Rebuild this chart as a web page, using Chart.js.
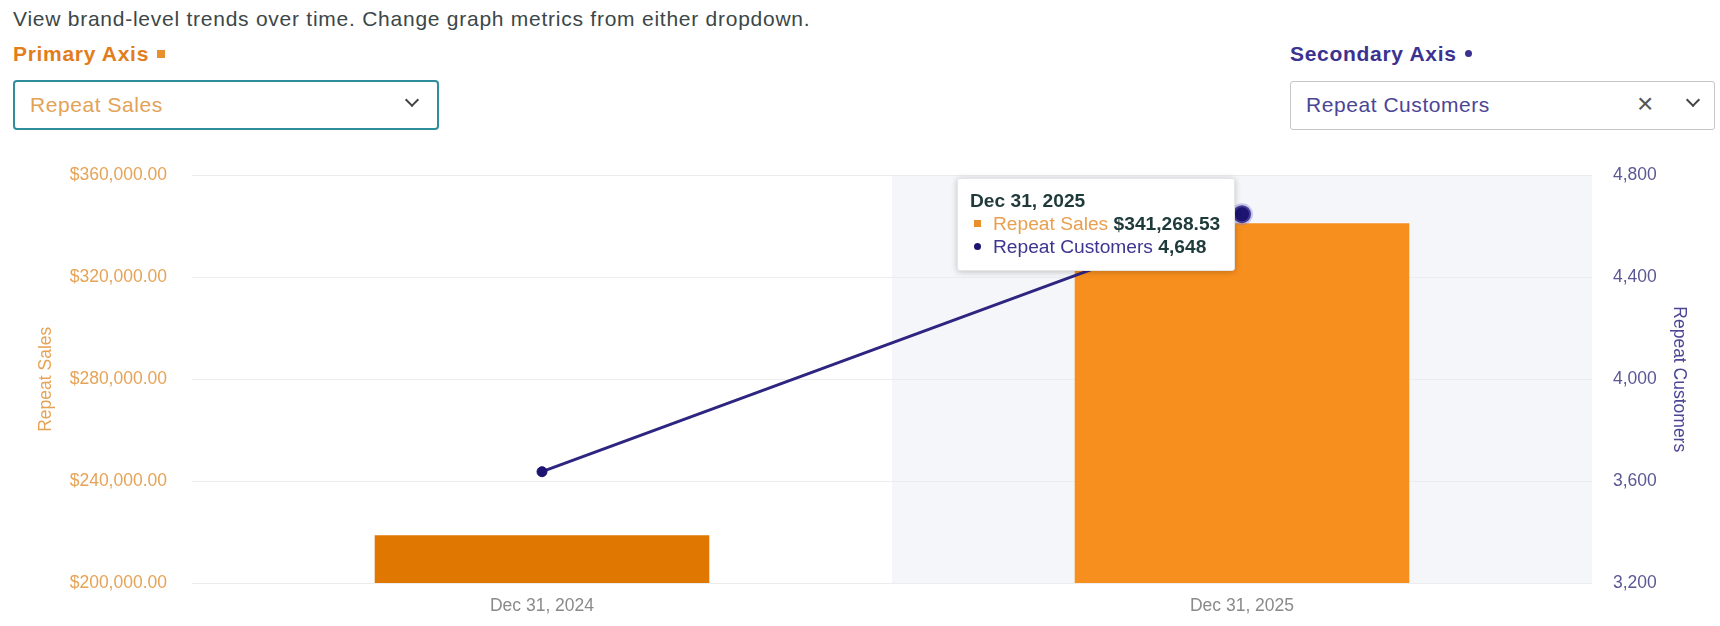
<!DOCTYPE html>
<html>
<head>
<meta charset="utf-8">
<script src="https://cdn.jsdelivr.net/npm/chart.js@4.4.1/dist/chart.umd.min.js"></script>
<style>
  html, body { margin: 0; padding: 0; background: #fff; width: 1720px; height: 626px; overflow: hidden; font-family: "Liberation Sans", Arial, sans-serif; }
  #intro { position: absolute; left: 13px; top: 7px; font-size: 21px; color: #3b4748; letter-spacing: 0.75px; white-space: nowrap; }
  .axlab { position: absolute; top: 42px; font-size: 21px; font-weight: bold; white-space: nowrap; letter-spacing: 0.7px; }
  #plab { left: 13px; color: #e27d1c; }
  #slab { left: 1290px; color: #3b3290; }
  .sq { display: inline-block; width: 8px; height: 8px; background: #e8902c; margin-left: 8px; vertical-align: 3px; }
  .dot { display: inline-block; width: 7px; height: 7px; border-radius: 50%; background: #3b3290; margin-left: 8px; vertical-align: 4px; }
  .dd { position: absolute; box-sizing: border-box; background: #fff; font-size: 21px; }
  #dd1 { left: 13px; top: 80px; width: 426px; height: 50px; border: 2px solid #2d8d9a; border-radius: 4px; color: #e3a257; }
  #dd2 { left: 1290px; top: 81px; width: 425px; height: 49px; border: 1px solid #c6c6c6; border-radius: 3px; color: #4c4596; }
  .dd .txt { position: absolute; left: 15px; top: 11px; letter-spacing: 0.55px; }
  .chev { position: absolute; top: 13px; width: 8px; height: 8px; border-right: 2.5px solid #444; border-bottom: 2.5px solid #444; transform: rotate(45deg); }
  #dd1 .chev { left: 392px; }
  #dd2 .chev { left: 397px; }
  .x { position: absolute; left: 346px; top: 6px; font-size: 28px; color: #555; }
  #wrap { position: absolute; left: 0; top: 140px; width: 1720px; height: 486px; }
  #tip { position: absolute; display: none; background: #fff; border: 1px solid #e6e6e6; border-radius: 3px; box-shadow: 0 1px 6px rgba(0,0,0,0.22); padding: 10px 14px 12px 12px; font-family: "Liberation Sans", Arial, sans-serif; font-size: 19.2px; line-height: 23px; white-space: nowrap; color: #1f3a3a; }
  #tip .t { font-weight: bold; }
  #tip .v { font-weight: bold; color: #1f3a3a; }
  #tip .m1 { display: inline-block; width: 7px; height: 7px; background: #e8902c; margin: 0 12px 0 4px; vertical-align: 3px; }
  #tip .m2 { display: inline-block; width: 7px; height: 7px; border-radius: 50%; background: #1c1470; margin: 0 12px 0 4px; vertical-align: 3px; }
</style>
</head>
<body>
<div id="intro">View brand-level trends over time. Change graph metrics from either dropdown.</div>
<div class="axlab" id="plab">Primary Axis<span class="sq"></span></div>
<div class="axlab" id="slab">Secondary Axis<span class="dot"></span></div>
<div class="dd" id="dd1"><span class="txt">Repeat Sales</span><span class="chev"></span></div>
<div class="dd" id="dd2"><span class="txt">Repeat Customers</span><span class="x">×</span><span class="chev"></span></div>
<div id="wrap"><canvas id="c" width="1720" height="486"></canvas></div>
<div id="tip"></div>
<script>
// ---- data ----
const categories = ["Dec 31, 2024", "Dec 31, 2025"];
const repeatSales = [218700, 341268.53];
const repeatCustomers = [3637, 4648];
const salesTicks = [200000, 240000, 280000, 320000, 360000];
const customerTicks = [3200, 3600, 4000, 4400, 4800];
const activeIndex = 1;

const money = v => "$" + v.toLocaleString("en-US", {minimumFractionDigits: 2, maximumFractionDigits: 2});
const num = v => v.toLocaleString("en-US");

const bandPlugin = {
  id: "band",
  beforeDraw(chart) {
    const xs = chart.scales.x, a = chart.chartArea, ctx = chart.ctx;
    const w = xs.width / categories.length;
    const cx = xs.getPixelForValue(activeIndex);
    ctx.save();
    ctx.fillStyle = "#f5f6f9";
    ctx.fillRect(cx - w / 2, a.top, w, a.bottom - a.top);
    ctx.restore();
  }
};

function externalTip(context) {
  const tip = document.getElementById("tip");
  const t = context.tooltip;
  if (!t || t.opacity === 0 || !t.dataPoints || !t.dataPoints.length) { tip.style.display = "none"; return; }
  const pts = t.dataPoints;
  let html = '<div class="t">' + categories[pts[0].dataIndex] + '</div>';
  pts.forEach(p => {
    if (p.dataset.type === "bar") {
      html += '<div><span class="m1"></span><span style="color:#e8a050">' + p.dataset.label + '</span> <span class="v">' + money(p.raw) + '</span></div>';
    } else {
      html += '<div><span class="m2"></span><span style="color:#3d3590">' + p.dataset.label + '</span> <span class="v">' + num(p.raw) + '</span></div>';
    }
  });
  tip.innerHTML = html;
  tip.style.display = "block";
  const chart = context.chart;
  const pt = chart.getDatasetMeta(0).data[activeIndex];
  const rect = chart.canvas.getBoundingClientRect();
  const w = tip.offsetWidth;
  tip.style.left = (rect.left + pt.x - 7 - w) + "px";
  tip.style.top = (rect.top + pt.y - 36) + "px";
}

const chart = new Chart(document.getElementById("c"), {
  data: {
    labels: categories,
    datasets: [
      {
        type: "line", label: "Repeat Customers", data: repeatCustomers, yAxisID: "y1", order: 0,
        borderColor: "#2d2580", borderWidth: 3, backgroundColor: "#1c1470",
        pointRadius: 5, pointBackgroundColor: "#1c1470", pointBorderColor: "#1c1470", pointBorderWidth: 1,
        pointHoverRadius: 9, pointHoverBackgroundColor: "#1c1470",
        pointHoverBorderColor: "rgba(130,120,210,0.38)", pointHoverBorderWidth: 4,
        tension: 0
      },
      {
        type: "bar", label: "Repeat Sales", data: repeatSales, yAxisID: "y", order: 1,
        backgroundColor: "#df7700", hoverBackgroundColor: "#f78f1e", borderWidth: 0,
        barPercentage: 0.478, categoryPercentage: 1
      }
    ]
  },
  options: {
    responsive: false, animation: false,
    events: [],
    layout: { padding: { top: 33, left: 0, right: 0, bottom: 0 } },
    plugins: {
      legend: { display: false },
      tooltip: { enabled: false, mode: "index", intersect: false, external: externalTip,
        itemSort: (a, b) => (a.dataset.type === "bar" ? -1 : 1) }
    },
    scales: {
      x: {
        grid: { display: false, drawTicks: false },
        border: { display: false },
        ticks: { color: "#8a8a8a", font: { family: "Liberation Sans", size: 17.5 }, padding: 13 },
        afterFit(s) { s.height = 43; }
      },
      y: {
        position: "left", min: salesTicks[0], max: salesTicks[salesTicks.length - 1],
        afterBuildTicks(s) { s.ticks = salesTicks.map(v => ({ value: v })); },
        grid: { color: "#ececec", drawTicks: false, lineWidth: 1 },
        border: { display: false },
        ticks: { color: "#e6a356", font: { family: "Liberation Sans", size: 17.5 }, padding: 25, callback: v => money(v) },
        title: { display: true, text: "Repeat Sales", color: "#e6a356", font: { family: "Liberation Sans", size: 17.5 }, padding: { top: 36, bottom: 0 } },
        afterFit(s) { s.width = 192; }
      },
      y1: {
        position: "right", min: customerTicks[0], max: customerTicks[customerTicks.length - 1],
        afterBuildTicks(s) { s.ticks = customerTicks.map(v => ({ value: v })); },
        grid: { display: false, drawTicks: false },
        border: { display: false },
        ticks: { color: "#5b5794", font: { family: "Liberation Sans", size: 17.5 }, padding: 21, callback: v => num(v) },
        title: { display: true, text: "Repeat Customers", color: "#4c4596", font: { family: "Liberation Sans", size: 17.5 }, padding: { top: 31, bottom: 0 } },
        afterFit(s) { s.width = 128; }
      }
    }
  },
  plugins: [bandPlugin]
});

const act = [{ datasetIndex: 1, index: activeIndex }, { datasetIndex: 0, index: activeIndex }];
chart.setActiveElements(act);
const p = chart.getDatasetMeta(0).data[activeIndex];
chart.tooltip.setActiveElements(act, { x: p.x, y: p.y });
chart.update("none");
externalTip({ chart: chart, tooltip: chart.tooltip });
</script>
</body>
</html>
